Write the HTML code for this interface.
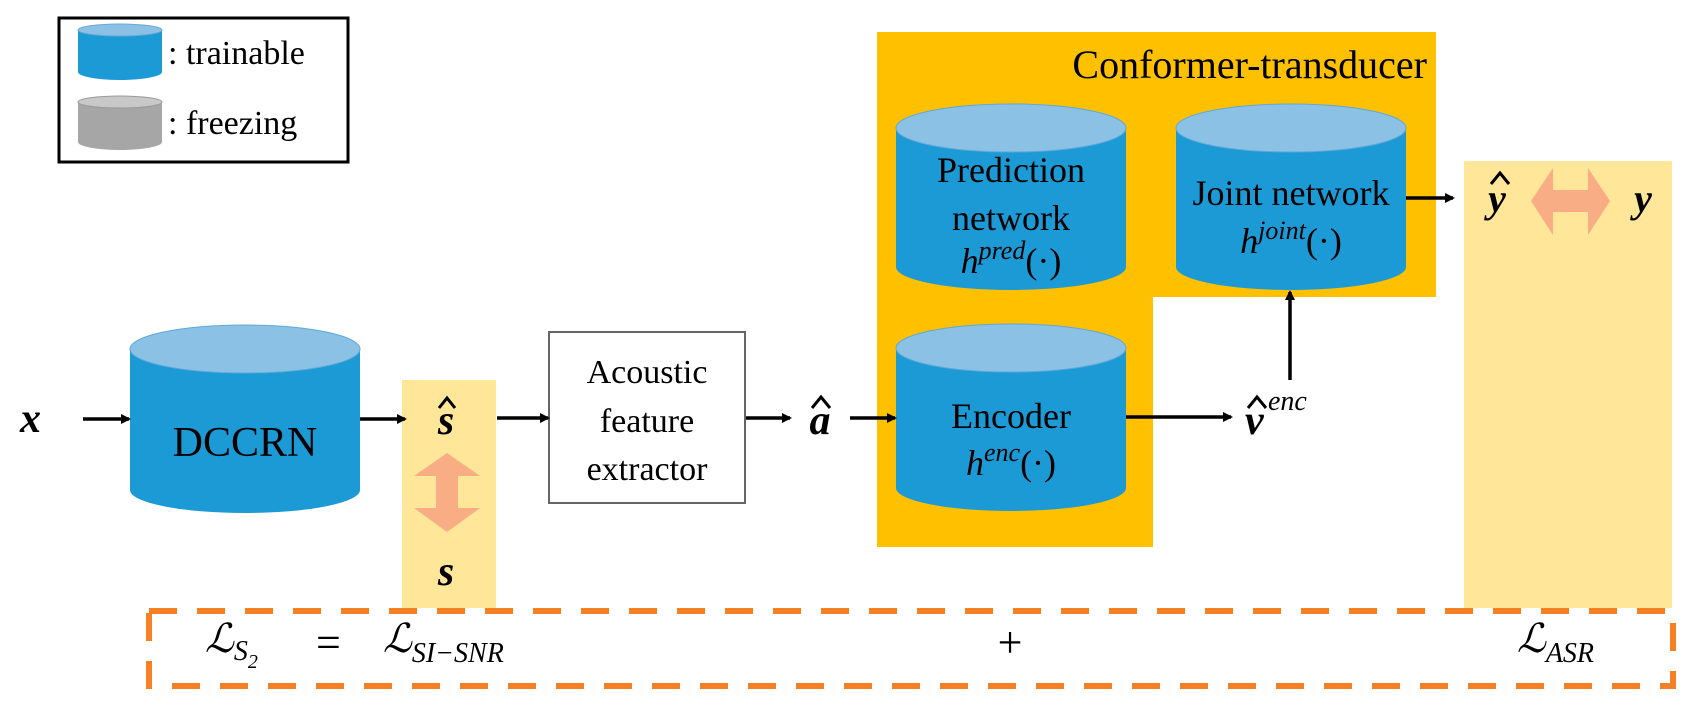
<!DOCTYPE html>
<html><head><meta charset="utf-8"><style>
html,body{margin:0;padding:0;background:#fff}
svg{display:block}
text{font-family:"Liberation Serif",serif;fill:#000}
.m{font-style:italic}
.b{font-weight:bold}
</style></head><body>
<svg width="1694" height="706" viewBox="0 0 1694 706" xmlns="http://www.w3.org/2000/svg">
<defs>
<marker id="ah" markerWidth="10" markerHeight="10" refX="8" refY="5" orient="auto" markerUnits="userSpaceOnUse">
<path d="M0,0 L10,5 L0,10 z" fill="#000"/></marker>
</defs>
<!-- legend -->
<rect x="59" y="18" width="289" height="144" fill="#fff" stroke="#000" stroke-width="3"/>
<path d="M78,30 V72 A42,8 0 0 0 162,72 V30 Z" fill="#1b9ad6"/>
<ellipse cx="120" cy="30" rx="42" ry="6" fill="#8ac1e5" stroke="#6aa9d4"/>
<path d="M78,102 V142 A42,8 0 0 0 162,142 V102 Z" fill="#a6a6a6"/>
<ellipse cx="120" cy="102" rx="42" ry="6" fill="#c8c8c8" stroke="#999"/>
<text x="168" y="64" font-size="34">: trainable</text>
<text x="168" y="134" font-size="34">: freezing</text>

<!-- conformer orange -->
<path d="M877,32 H1436 V297 H1153 V547 H877 Z" fill="#ffc000"/>
<text x="1427" y="78" font-size="40" text-anchor="end">Conformer-transducer</text>
<!-- light yellows -->
<rect x="402" y="380" width="94" height="228" fill="#ffe699"/>
<rect x="1464" y="161" width="208" height="447" fill="#ffe699"/>

<!-- DCCRN -->
<path d="M130,349 V490 A115,23 0 0 0 360,490 V349 Z" fill="#1b9ad6"/>
<ellipse cx="245" cy="349" rx="115" ry="24" fill="#8ac1e5" stroke="#5fa8d8"/>
<text x="245" y="456" font-size="42" text-anchor="middle">DCCRN</text>

<!-- prediction -->
<path d="M896,128 V267 A115,23 0 0 0 1126,267 V128 Z" fill="#1b9ad6"/>
<ellipse cx="1011" cy="128" rx="115" ry="24" fill="#8ac1e5" stroke="#5fa8d8"/>
<text x="1011" y="182" font-size="36" text-anchor="middle">Prediction</text>
<text x="1011" y="230" font-size="36" text-anchor="middle">network</text>
<text x="1011" y="273" font-size="36" text-anchor="middle"><tspan class="m">h</tspan><tspan class="m" font-size="26" dy="-14">pred</tspan><tspan dy="14">(·)</tspan></text>

<!-- joint -->
<path d="M1176,128 V267 A115,23 0 0 0 1406,267 V128 Z" fill="#1b9ad6"/>
<ellipse cx="1291" cy="128" rx="115" ry="24" fill="#8ac1e5" stroke="#5fa8d8"/>
<text x="1291" y="205" font-size="36" text-anchor="middle">Joint network</text>
<text x="1291" y="253" font-size="36" text-anchor="middle"><tspan class="m">h</tspan><tspan class="m" font-size="26" dy="-14">joint</tspan><tspan dy="14">(·)</tspan></text>

<!-- encoder -->
<path d="M896,348 V488 A115,23 0 0 0 1126,488 V348 Z" fill="#1b9ad6"/>
<ellipse cx="1011" cy="348" rx="115" ry="24" fill="#8ac1e5" stroke="#5fa8d8"/>
<text x="1011" y="428" font-size="36" text-anchor="middle">Encoder</text>
<text x="1011" y="475" font-size="36" text-anchor="middle"><tspan class="m">h</tspan><tspan class="m" font-size="26" dy="-14">enc</tspan><tspan dy="14">(·)</tspan></text>

<!-- acoustic box -->
<rect x="549" y="332" width="196" height="171" fill="#fff" stroke="#666" stroke-width="2"/>
<text x="647" y="383" font-size="34" text-anchor="middle">Acoustic</text>
<text x="647" y="432" font-size="34" text-anchor="middle">feature</text>
<text x="647" y="480" font-size="34" text-anchor="middle">extractor</text>

<!-- arrows -->
<g stroke="#000" stroke-width="3.5" fill="none" marker-end="url(#ah)">
<line x1="83" y1="419" x2="129" y2="419"/>
<line x1="360" y1="419" x2="405" y2="419"/>
<line x1="497" y1="418" x2="548" y2="418"/>
<line x1="746" y1="418" x2="790" y2="418"/>
<line x1="850" y1="418" x2="895" y2="418"/>
<line x1="1126" y1="417" x2="1231" y2="417"/>
<line x1="1290" y1="380" x2="1290" y2="292"/>
<line x1="1406" y1="198" x2="1453" y2="198"/>
</g>

<!-- labels -->
<text x="20" y="432" font-size="42" class="m b">x</text>
<text x="446" y="434" font-size="42" class="m b" text-anchor="middle">s</text>
<text x="446" y="585" font-size="42" class="m b" text-anchor="middle">s</text>
<text x="820" y="434" font-size="42" class="m b" text-anchor="middle">a</text>
<text x="1245" y="434" font-size="42" class="m b">v</text>
<text x="1268" y="410" font-size="28" class="m">enc</text>
<text x="1497" y="212" font-size="40" class="m b" text-anchor="middle">y</text>
<text x="1643" y="212" font-size="40" class="m b" text-anchor="middle">y</text>
<g stroke="#000" stroke-width="3" fill="none">
<path d="M439,408 L447,398 L455,408"/>
<path d="M812,408 L821,397 L830,408"/>
<path d="M1248,408 L1257,397 L1266,408"/>
<path d="M1491,184 L1500,173 L1509,184"/>
</g>

<!-- double arrows -->
<path d="M447,453 L480,476 L458,476 L458,508 L480,508 L447,532 L414,508 L436,508 L436,476 L414,476 Z" fill="#f8ad84"/>
<path d="M1531,201 L1553,168 L1553,190 L1588,190 L1588,168 L1610,201 L1588,235 L1588,212 L1553,212 L1553,235 Z" fill="#f8ad84"/>

<!-- dashed loss box -->
<rect x="149" y="611" width="1524" height="75" fill="none" stroke="#f58025" stroke-width="6" stroke-dasharray="28 20"/>
<text x="205" y="652" font-size="40" class="m">ℒ<tspan font-size="28" dy="8">S</tspan><tspan font-size="20" dy="8">2</tspan></text>
<text x="316" y="657" font-size="44">=</text>
<text x="383" y="652" font-size="40" class="m">ℒ<tspan font-size="28" dy="10">SI−SNR</tspan></text>
<text x="1010" y="657" font-size="44" text-anchor="middle">+</text>
<text x="1517" y="652" font-size="40" class="m">ℒ<tspan font-size="28" dy="10">ASR</tspan></text>
</svg>
</body></html>
